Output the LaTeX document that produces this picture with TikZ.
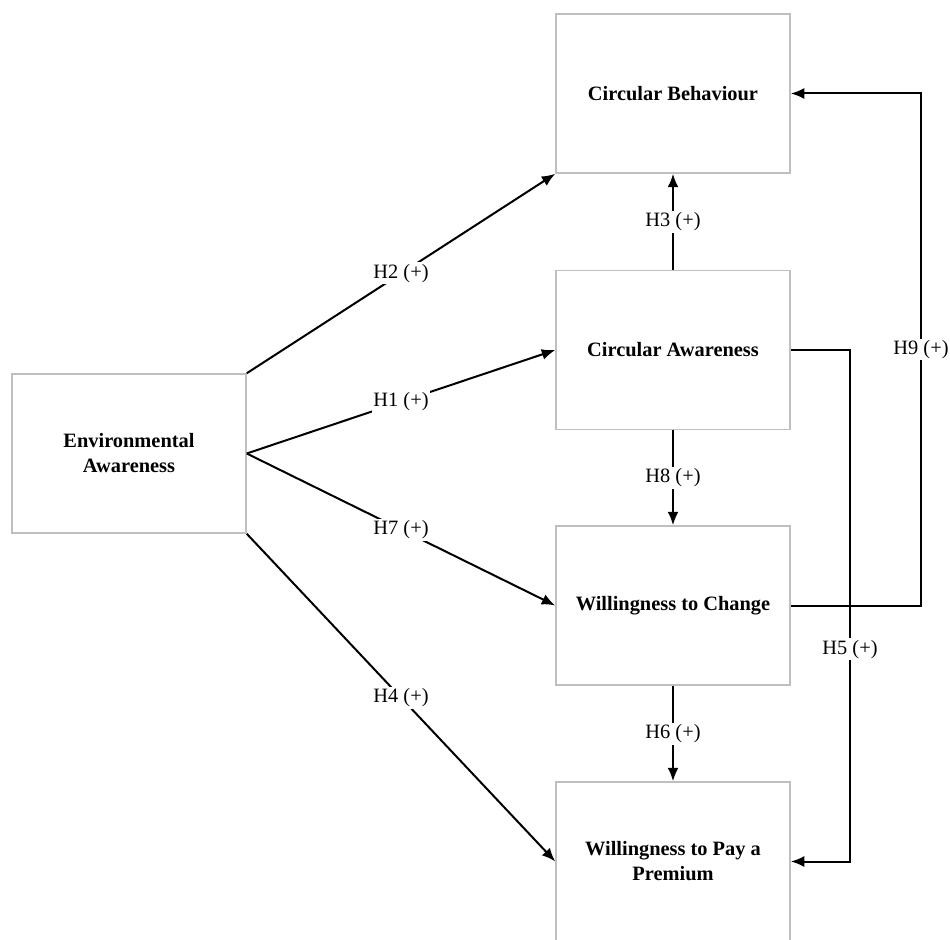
\documentclass[tikz,border=0pt]{standalone}
\usepackage{fontspec}
\setmainfont{Liberation Serif}
\usepackage{xcolor}
\usepackage{tikz}
\usetikzlibrary{positioning,arrows.meta}

\begin{document}
\begin{tikzpicture}[
    box/.style={draw=gray!50, line width=0.03cm, minimum width=4.68cm, minimum height=3.18cm,
      align=center, font=\fontsize{11.6}{14.2}\selectfont\bfseries},
    hyp/.style={fill=white, inner sep=1pt, font=\fontsize{11.6}{14.2}\selectfont},
    link/.style={black, line width=0.04cm, -{Latex[length=0.27cm, width=0.22cm]}}
  ]
    \useasboundingbox (0, 0) rectangle (19, 18.78);

    \node [box] (EA) at (2.58, 9.71) {Environmental\\Awareness};
    \node [box] (CB) at (13.46, 16.91) {Circular Behaviour};
    \node [box] (CA) at (13.46, 11.78) {Circular Awareness};
    \node [box] (WC) at (13.46, 6.67) {Willingness to Change};
    \node [box] (WP) at (13.46, 1.55) {Willingness to Pay a\\Premium};

    \coordinate (WC9) at (18.42, 6.67);
    \coordinate (CB9) at (18.42, 16.91);
    \coordinate (CA5) at (17.0, 11.78);
    \coordinate (WP5) at (17.0, 1.55);

    \draw [link] (EA.north east) to node [hyp] (H2) {H2 (+)} (CB.south west);
    \draw [link] (EA.east) to node [hyp] (H1) {H1 (+)} (CA.west);
    \draw [link] (EA.east) to node [hyp] (H7) {H7 (+)} (WC.west);
    \draw [link] (EA.south east) to node [hyp] (H4) {H4 (+)} (WP.west);

    \draw [link] (CA.north) to node [hyp] (H3) {H3 (+)} (CB.south);
    \draw [link] (CA.south) to node [hyp] (H8) {H8 (+)} (WC.north);
    \draw [link] (WC.south) to node [hyp] (H6) {H6 (+)} (WP.north);

    \draw [link] (WC.east) -- (WC9) -- node [hyp, pos=0.5] (H9) {H9 (+)} (CB9) -- (CB.east);
    \draw [link] (CA.east) -- (CA5) -- node [hyp, pos=0.585] (H5) {H5 (+)} (WP5) -- (WP.east);
  \end{tikzpicture}
\end{document}
